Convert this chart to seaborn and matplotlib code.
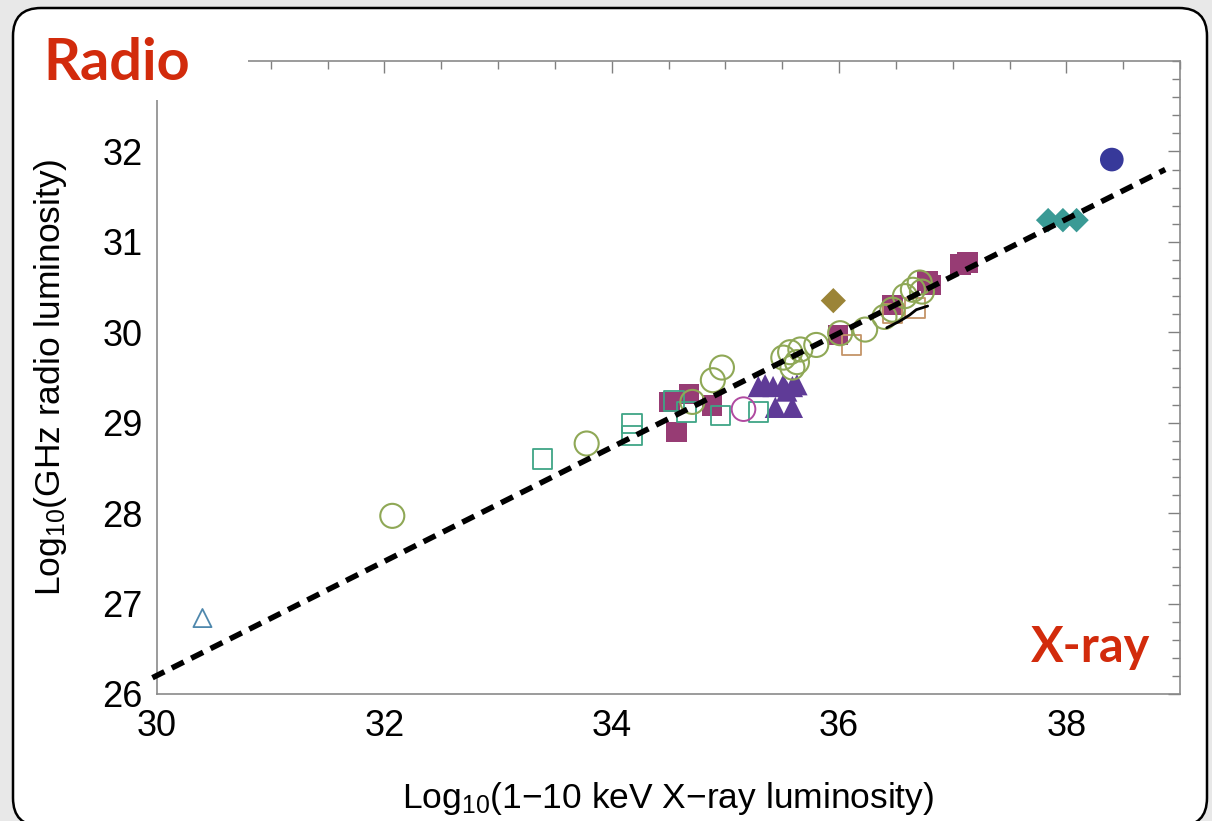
import matplotlib
matplotlib.use("Agg")
import matplotlib.pyplot as plt
import seaborn as sns
from matplotlib.ticker import MultipleLocator, FixedLocator
from matplotlib.patches import FancyBboxPatch, Rectangle

# ---------------- data ----------------
x_ticks = [30, 32, 34, 36, 38]
y_ticks = [26, 27, 28, 29, 30, 31, 32]

tri_open_x = [30.40]
tri_open_y = [26.84]

circ_green_x = [32.07, 33.78, 34.71, 34.89, 34.97, 35.51, 35.57, 35.63, 35.66, 35.59,
                35.80, 36.01, 36.23, 36.40, 36.47, 36.58, 36.65, 36.71, 36.73]
circ_green_y = [27.97, 28.77, 29.23, 29.47, 29.61, 29.72, 29.78, 29.67, 29.81, 29.61,
                29.86, 29.99, 30.03, 30.17, 30.25, 30.40, 30.47, 30.55, 30.45]

sq_mag_x = [34.51, 34.68, 34.88, 34.57, 35.99, 36.47, 36.78, 36.81, 37.07, 37.13]
sq_mag_y = [29.23, 29.32, 29.19, 28.90, 29.97, 30.30, 30.57, 30.52, 30.75, 30.77]

sq_teal_x = [33.39, 34.18, 34.18, 34.55, 34.66, 34.96, 35.29]
sq_teal_y = [28.60, 28.99, 28.86, 29.24, 29.12, 29.08, 29.12]

circ_pink_x = [35.16]
circ_pink_y = [29.15]

tri_purple_x = [35.29, 35.35, 35.42, 35.51, 35.59, 35.63, 35.54, 35.44, 35.59]
tri_purple_y = [29.40, 29.42, 29.40, 29.42, 29.40, 29.42, 29.35, 29.17, 29.17]

sq_tan_x = [36.11, 36.47, 36.67]
sq_tan_y = [29.86, 30.21, 30.27]

dia_gold_x = [35.95]
dia_gold_y = [30.35]

dia_teal_x = [37.84, 37.97, 38.09]
dia_teal_y = [31.24, 31.24, 31.24]

circ_navy_x = [38.40]
circ_navy_y = [31.91]

track_x = [36.42, 36.53, 36.62, 36.68, 36.78]
track_y = [30.05, 30.12, 30.19, 30.25, 30.29]

fit_x = [29.96, 38.87]
fit_y = [26.18, 31.80]

# ---------------- style ----------------
sns.set_theme(style="white")
plt.rcParams['font.family'] = ['Liberation Sans', 'DejaVu Sans']
plt.rcParams['mathtext.fontset'] = 'custom'
plt.rcParams['mathtext.rm'] = 'Liberation Sans'
plt.rcParams['mathtext.it'] = 'Liberation Sans:italic'
plt.rcParams['mathtext.bf'] = 'Liberation Sans:bold'

W, H, DPI = 1212, 821, 100
fig = plt.figure(figsize=(W / DPI, H / DPI), dpi=DPI, facecolor='#e8e8e8')

card = FancyBboxPatch((0.13, -0.05), 11.94, 8.18,
                      boxstyle="round,pad=0,rounding_size=0.28",
                      transform=fig.dpi_scale_trans, fc='white', ec='black',
                      lw=1.8, zorder=-5)
fig.add_artist(card)

ax = fig.add_axes([157 / W, 1 - 694 / H, (1180 - 157) / W, (694 - 61) / H])
ax.set_facecolor('white')

def open_pts(x, y, marker, color, s, lw, z):
    sns.scatterplot(x=x, y=y, marker=marker, s=s, facecolor='none',
                    edgecolor=color, linewidth=lw, ax=ax, legend=False, zorder=z)

def filled_pts(x, y, marker, color, s, z):
    sns.scatterplot(x=x, y=y, marker=marker, s=s, color=color,
                    edgecolor='none', linewidth=0, ax=ax, legend=False, zorder=z)

filled_pts(sq_mag_x, sq_mag_y, 's', '#973c74', 215, 3)
filled_pts(tri_purple_x, tri_purple_y, '^', '#5f3b97', 235, 3)
open_pts(sq_teal_x, sq_teal_y, 's', '#3fa586', 195, 1.3, 4)
open_pts(circ_pink_x, circ_pink_y, 'o', '#b04aa0', 290, 1.4, 4)
open_pts(sq_tan_x, sq_tan_y, 's', '#c49468', 195, 1.3, 4)
open_pts(circ_green_x, circ_green_y, 'o', '#8fa856', 300, 1.5, 5)
open_pts(tri_open_x, tri_open_y, '^', '#4f88ad', 170, 1.3, 5)
filled_pts(dia_gold_x, dia_gold_y, 'D', '#9b8437', 165, 5)
filled_pts(dia_teal_x, dia_teal_y, 'D', '#3a9a95', 155, 5)
filled_pts(circ_navy_x, circ_navy_y, 'o', '#37399a', 290, 5)

sns.lineplot(x=track_x, y=track_y, color='black', lw=2.0, sort=False,
             estimator=None, ax=ax, zorder=6)
sns.lineplot(x=fit_x, y=fit_y, color='black', lw=4.0,
             linestyle=(0, (2.4, 1.5)), dash_capstyle='butt',
             ax=ax, zorder=10, clip_on=False)

ax.set_xlim(30, 39)
ax.set_ylim(26, 33)
ax.xaxis.set_major_locator(FixedLocator(x_ticks))
ax.yaxis.set_major_locator(FixedLocator(y_ticks))
ax.xaxis.set_minor_locator(MultipleLocator(0.5))
ax.yaxis.set_minor_locator(MultipleLocator(0.2))
ax.tick_params(which='both', direction='in', top=True, right=True,
               color='#808080', width=1.0, labelsize=26, pad=10.5,
               labelcolor='black')
ax.tick_params(which='major', length=8.5)
ax.tick_params(which='minor', length=5.5)
for sp in ax.spines.values():
    sp.set_color('#8a8a8a')
    sp.set_linewidth(1.2)

ax.set_xlabel('Log$_{10}$(1\u221210 keV X\u2212ray luminosity)', fontsize=25.5,
              labelpad=26, color='black')
ax.set_ylabel('Log$_{10}$(GHz radio luminosity)', fontsize=25.5,
              labelpad=24, color='black')

# white patch breaking the frame behind the "Radio" tag
fig.add_artist(Rectangle((140 / W, 1 - 100 / H), 108 / W, 55 / H,
                         transform=fig.transFigure, fc='white', ec='none',
                         zorder=3))

red = '#d22b0c'
fig.text(43 / W, 1 - 80 / H, 'Radio', fontsize=41.5, fontweight='bold',
         family=['Lato', 'DejaVu Sans'], color=red, ha='left', va='baseline',
         zorder=6)
fig.text(1150 / W, 1 - 662 / H, 'X-ray', fontsize=35, fontweight='bold',
         family=['Lato', 'DejaVu Sans'], color=red, ha='right', va='baseline',
         zorder=6)

fig.savefig('out.png', dpi=DPI, facecolor=fig.get_facecolor())
